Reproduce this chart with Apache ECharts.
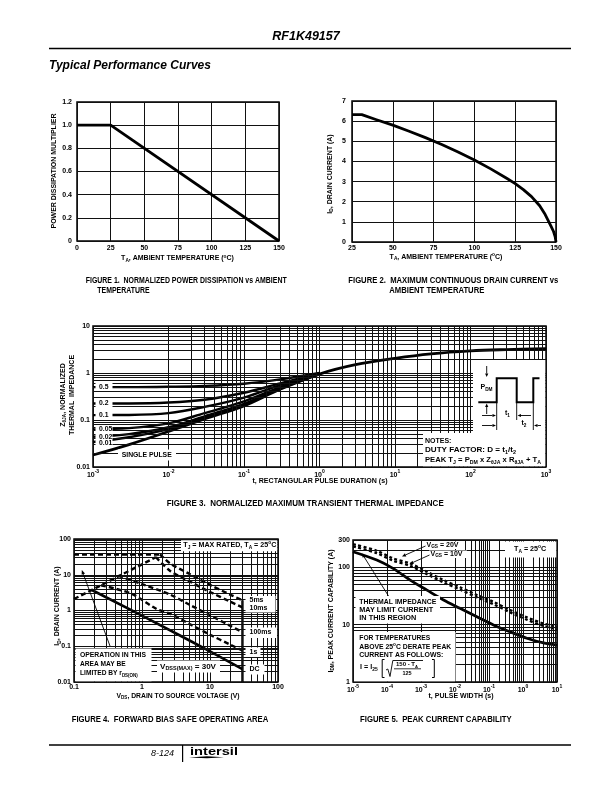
<!DOCTYPE html>
<html><head><meta charset="utf-8">
<script src="https://cdn.jsdelivr.net/npm/echarts@6/dist/echarts.min.js"></script>
<style>html,body{margin:0;padding:0;background:#fff}#c{width:612px;height:792px}</style>
</head><body><div id="c"></div>
<script>
// ---------------- DATA ----------------
// Figure 1: normalized power dissipation vs ambient temperature
const fig1Temp = [0, 25, 150];
const fig1Mult = [1.0, 1.0, 0];
// Figure 2: max continuous drain current vs ambient temperature
const fig2Temp = [25, 31, 40, 50, 60, 70, 80, 90, 100, 110, 120, 125, 130, 135, 140, 143, 145, 147, 148.5, 149.5, 150];
const fig2Id   = [6.32, 6.32, 6.07, 5.8, 5.5, 5.18, 4.84, 4.47, 4.07, 3.63, 3.15, 2.9, 2.6, 2.25, 1.8, 1.42, 1.1, 0.78, 0.52, 0.26, 0];
// Figure 3: normalized transient thermal impedance
const fig3Time   = [1e-3, 3e-3, 1e-2, 3e-2, 0.1, 0.3, 1];
const fig3D050   = [0.5, 0.5, 0.51, 0.53, 0.59, 0.73, 1.0];
const fig3D020   = [0.225, 0.225, 0.235, 0.27, 0.38, 0.6, 0.99];
const fig3D010   = [0.127, 0.128, 0.14, 0.19, 0.3, 0.55, 0.98];
const fig3D005   = [0.063, 0.067, 0.085, 0.14, 0.25, 0.5, 0.97];
const fig3D002   = [0.044, 0.05, 0.07, 0.12, 0.22, 0.47, 0.96];
const fig3D001   = [0.034, 0.043, 0.064, 0.112, 0.21, 0.46, 0.955];
const fig3TimeSP = [1e-3, 3e-3, 1e-2, 3e-2, 0.1, 0.3, 1, 3, 10, 30, 100, 300, 1000];
const fig3Single = [0.018, 0.03, 0.057, 0.105, 0.2, 0.45, 0.95, 1.5, 2.05, 2.55, 2.95, 3.15, 3.3];
const fig3DutyLabels = ['0.5', '0.2', '0.1', '0.05', '0.02', '0.01'];
// Figure 4: forward bias safe operating area
const fig4IdmV = [0.1, 1.84];        const fig4IdmI = [37, 37];
const fig4RdsV = [0.1, 0.2, 0.5, 1, 1.6];  const fig4RdsI = [2.1, 4.1, 10, 19.5, 31];
const fig4V5ms   = [1.84, 2.57, 5, 10, 20, 30];  const fig4I5ms   = [37, 21, 10.5, 5.2, 2.75, 1.94];
const fig4V10ms  = [1.6, 2.57, 5, 10, 20, 30];   const fig4I10ms  = [31, 13, 6.5, 3.3, 1.75, 1.22];
const fig4V100ms = [0.45, 1, 2.57, 5, 10, 20, 30]; const fig4I100ms = [9.3, 5.5, 2.8, 1.45, 0.74, 0.37, 0.25];
const fig4V1s    = [0.25, 0.7, 1.64, 2.57, 5, 10, 20, 30]; const fig4I1s = [5.1, 2.95, 1.1, 0.82, 0.42, 0.21, 0.11, 0.076];
const fig4VDC    = [0.18, 1, 5, 10, 30];  const fig4IDC = [3.8, 0.72, 0.145, 0.072, 0.023];
const fig4VdssV  = [30, 30];  const fig4VdssI = [0.01, 1.94];
const fig4Labels = ['5ms', '10ms', '100ms', '1s', 'DC'];
// Figure 5: peak current capability
const fig5Time = [1e-5, 5e-5, 1.5e-4, 4.8e-4, 1.5e-3, 4.6e-3, 1.4e-2, 4.4e-2, 0.135, 0.42, 1.3, 4, 10];
const fig5Thermal = [187, 134, 96, 60, 40, 27, 19.3, 13.7, 9.9, 7.5, 5.8, 4.8, 4.4];
const fig5Vgs20 = [255, 195, 144, 117, 84, 60, 45, 33, 25, 18, 13.4, 10.5, 9.2];
const fig5Vgs10 = [232, 177, 131, 106, 76, 54.5, 41, 30, 22.7, 16.4, 12.2, 9.5, 8.3];

// ---------------- HELPERS ----------------
const FF = "'Liberation Sans', Arial, Helvetica, sans-serif";
const mctx = document.createElement('canvas').getContext('2d');
function mw(t, size, weight, style) { mctx.font = (style || 'normal') + ' ' + (weight || 'bold') + ' ' + size + 'px ' + FF; return mctx.measureText(t).width; }
function parseRich(t) {
  const parts = []; const re = /\{(s|p)\|([^}]*)\}/g; let last = 0, m;
  while ((m = re.exec(t))) { if (m.index > last) parts.push({t: t.slice(last, m.index), small: false}); parts.push({t: m[2], small: true}); last = re.lastIndex; }
  if (last < t.length) parts.push({t: t.slice(last), small: false});
  return parts;
}
function richWidth(t, size, weight, style) { return parseRich(t.split('\n')[0]).reduce((a, p) => a + mw(p.t, p.small ? size * 0.68 : size, weight, style), 0); }
function txt(x, y, t, o) {
  o = o || {};
  const size = o.size || 7, weight = o.weight || 'bold', fst = o.italic ? 'italic' : 'normal', al = o.align || 'left';
  const st = {text: t, fill: '#000', fontSize: size, fontWeight: weight, fontStyle: fst, fontFamily: FF,
    align: al, verticalAlign: 'middle', textAlign: al, textVerticalAlign: 'middle', lineHeight: o.lh || Math.round(size * 1.35)};
  if (t.indexOf('{') >= 0) {
    st.rich = {
      s: {fontSize: size * 0.68, fontWeight: weight, fontFamily: FF, verticalAlign: 'bottom', lineHeight: size * 0.9},
      p: {fontSize: size * 0.68, fontWeight: weight, fontFamily: FF, verticalAlign: 'top', lineHeight: size * 0.9}
    };
  }
  const el = {type: 'text', x: x, y: y, z: 100, silent: true, style: st};
  let sx = o.sx; if (o.w) sx = o.w / richWidth(t, size, weight, fst);
  if (sx) el.scaleX = sx;
  if (o.rot) el.rotation = o.rot;
  return el;
}
function ln(x1, y1, x2, y2, w) { return {type: 'line', z: 100, silent: true, shape: {x1: x1, y1: y1, x2: x2, y2: y2}, style: {stroke: '#000', lineWidth: w || 1}}; }
function poly(pts, w) { return {type: 'polyline', z: 100, silent: true, shape: {points: pts}, style: {stroke: '#000', lineWidth: w || 1, fill: null}}; }
function box(x, y, w, h) { return {type: 'rect', z: 90, silent: true, shape: {x: x, y: y, width: w, height: h}, style: {fill: '#fff'}}; }
function arrow(x1, y1, x2, y2, w, L, W) {
  L = L || 4; W = W || 1.8;
  const dx = x2 - x1, dy = y2 - y1, d = Math.hypot(dx, dy), ux = dx / d, uy = dy / d;
  const bx = x2 - ux * L, by = y2 - uy * L;
  return [ln(x1, y1, bx, by, w), {type: 'polygon', z: 100, silent: true,
    shape: {points: [[x2, y2], [bx - uy * W, by + ux * W], [bx + uy * W, by - ux * W]]}, style: {fill: '#000'}}];
}
const pts = (xs, ys) => xs.map((x, i) => [x, ys[i]]);
function minorVals(min, max) {
  const out = [];
  for (let e = Math.floor(Math.log10(min)); e <= Math.ceil(Math.log10(max)); e++)
    for (let m = 2; m <= 9; m++) { const v = m * Math.pow(10, e); if (v > min * 1.0001 && v < max * 0.9999) out.push(v); }
  return out;
}
function gridSeries(gi, xv, yv) {
  return {type: 'line', xAxisIndex: gi, yAxisIndex: gi, data: [], silent: true, z: 1,
    markLine: {silent: true, symbol: ['none', 'none'], label: {show: false}, animation: false,
      lineStyle: {color: '#111', width: 1, type: 'solid'}, emphasis: {disabled: true},
      data: xv.map(v => ({xAxis: v})).concat(yv.map(v => ({yAxis: v})))}};
}
function curve(gi, data, o) {
  o = o || {};
  return {type: 'line', xAxisIndex: gi, yAxisIndex: gi, data: data, showSymbol: false, symbol: 'none', silent: true, z: 3,
    smooth: o.smooth || false, clip: true,
    lineStyle: {color: '#000', width: o.w || 2.6, type: o.dash || 'solid', cap: 'butt', join: 'round'}};
}
function decLabel(v) {
  const e = Math.round(Math.log10(v));
  if (Math.abs(v - Math.pow(10, e)) / v > 1e-6) return String(Math.round(v));
  return e >= 0 ? String(Math.round(Math.pow(10, e))) : '0.' + '0'.repeat(-e - 1) + '1';
}
const lblBase = {color: '#000', fontSize: 7, fontWeight: 'bold', fontFamily: FF, interval: 0, showMinLabel: true, showMaxLabel: true};
const powRich = {b: {fontSize: 7, fontWeight: 'bold', fontFamily: FF, lineHeight: 10, verticalAlign: 'bottom', color: '#000'},
                 e: {fontSize: 5, fontWeight: 'bold', fontFamily: FF, lineHeight: 6, verticalAlign: 'top', color: '#000'}};
const powFmt = v => '{b|10}{e|' + Math.round(Math.log10(v)) + '}';
const split = {show: true, lineStyle: {color: '#111', width: 1}};
function ax(gi, o) {
  return Object.assign({gridIndex: gi, axisLine: {show: false}, axisTick: {show: false}, splitLine: split}, o);
}

// ---------------- OPTION ----------------
const grids = [
  {left: 77, top: 102, width: 202, height: 139},
  {left: 352, top: 101, width: 204, height: 141},
  {left: 93, top: 326, width: 453, height: 141},
  {left: 74, top: 539, width: 204, height: 143},
  {left: 353, top: 540, width: 204, height: 142}
].map(g => Object.assign(g, {show: true, borderColor: '#000', borderWidth: 1.5, backgroundColor: 'transparent', containLabel: false}));

const xAxes = [
  ax(0, {type: 'value', min: 0, max: 150, interval: 25, axisLabel: Object.assign({}, lblBase, {margin: 4})}),
  ax(1, {type: 'value', min: 25, max: 150, interval: 25, axisLabel: Object.assign({}, lblBase, {margin: 3})}),
  ax(2, {type: 'log', logBase: 10, min: 1e-3, max: 1e3, axisLabel: Object.assign({}, lblBase, {margin: 2, formatter: powFmt, rich: powRich})}),
  ax(3, {type: 'log', logBase: 10, min: 0.1, max: 100, axisLabel: Object.assign({}, lblBase, {margin: 2, formatter: decLabel})}),
  ax(4, {type: 'log', logBase: 10, min: 1e-5, max: 10, axisLabel: Object.assign({}, lblBase, {margin: 2, formatter: powFmt, rich: powRich})})
];
const yAxes = [
  ax(0, {type: 'value', min: 0, max: 1.2, interval: 0.2, axisLabel: Object.assign({}, lblBase, {margin: 5, formatter: v => v === 0 ? '0' : v.toFixed(1)})}),
  ax(1, {type: 'value', min: 0, max: 7, interval: 1, axisLabel: Object.assign({}, lblBase, {margin: 6})}),
  ax(2, {type: 'log', logBase: 10, min: 0.01, max: 10, axisLabel: Object.assign({}, lblBase, {margin: 3, formatter: decLabel})}),
  ax(3, {type: 'log', logBase: 10, min: 0.01, max: 100, axisLabel: Object.assign({}, lblBase, {margin: 3, formatter: decLabel})}),
  ax(4, {type: 'log', logBase: 10, min: 1, max: 300, axisLabel: Object.assign({}, lblBase, {margin: 3, formatter: decLabel})})
];

const series = [
  gridSeries(2, minorVals(1e-3, 1e3), minorVals(0.01, 10)),
  gridSeries(3, minorVals(0.1, 100), minorVals(0.01, 100)),
  gridSeries(4, minorVals(1e-5, 10), minorVals(1, 300)),
  // Fig 1
  curve(0, pts(fig1Temp, fig1Mult), {w: 2.8}),
  // Fig 2
  curve(1, pts(fig2Temp, fig2Id), {w: 2.8}),
  // Fig 3
  curve(2, pts(fig3Time, fig3D050), {w: 2.4, smooth: 0.35}),
  curve(2, pts(fig3Time, fig3D020), {w: 2.4, smooth: 0.35}),
  curve(2, pts(fig3Time, fig3D010), {w: 2.4, smooth: 0.35}),
  curve(2, pts(fig3Time, fig3D005), {w: 2.4, smooth: 0.35}),
  curve(2, pts(fig3Time, fig3D002), {w: 2.4, smooth: 0.35}),
  curve(2, pts(fig3Time, fig3D001), {w: 2.4, smooth: 0.35}),
  curve(2, pts(fig3TimeSP, fig3Single), {w: 2.8, smooth: 0.35}),
  // Fig 4
  curve(3, pts(fig4IdmV, fig4IdmI), {w: 2.4, dash: [5, 3]}),
  curve(3, pts(fig4RdsV, fig4RdsI), {w: 2.4, dash: [5, 3]}),
  curve(3, pts(fig4V5ms, fig4I5ms), {w: 2.4, dash: [5, 3], smooth: 0.3}),
  curve(3, pts(fig4V10ms, fig4I10ms), {w: 2.4, dash: [5, 3], smooth: 0.3}),
  curve(3, pts(fig4V100ms, fig4I100ms), {w: 2.4, dash: [5, 3], smooth: 0.3}),
  curve(3, pts(fig4V1s, fig4I1s), {w: 2.4, dash: [5, 3], smooth: 0.3}),
  curve(3, pts(fig4VDC, fig4IDC), {w: 2.6}),
  curve(3, pts(fig4VdssV, fig4VdssI), {w: 2.4}),
  // Fig 5
  curve(4, pts(fig5Time, fig5Thermal), {w: 2.8, smooth: 0.3}),
  curve(4, pts(fig5Time, fig5Vgs20), {w: 2.3, dash: [3, 2.5], smooth: 0.3}),
  curve(4, pts(fig5Time, fig5Vgs10), {w: 2.3, dash: [3, 2.5], smooth: 0.3})
];

// ---------------- ANNOTATIONS ----------------
const R90 = Math.PI / 2;
const capSize = 8.6;
const g = [];
// page header / footer
g.push(txt(306, 37, 'RF1K49157', {size: 12.5, italic: true, align: 'center'}));
g.push(ln(49, 48.5, 571, 48.5, 1.3));
g.push(txt(49, 66, 'Typical Performance Curves', {size: 12, italic: true, w: 162}));
g.push(ln(49, 745, 571, 745, 1.3));
g.push(txt(174, 753, '8-124', {size: 9, italic: true, weight: 'normal', align: 'right'}));
g.push(ln(182.6, 745, 182.6, 762, 1.2));
g.push(txt(190, 752, 'intersil', {size: 11.5, weight: 'bold', w: 48}));
g.push({type: 'polygon', z: 100, silent: true, shape: {points: [[189, 757.5], [207, 756.3], [224, 757.3], [207, 758.3]]}, style: {fill: '#000'}});

// Figure 1
g.push(txt(177.5, 258.3, 'T{s|A}, AMBIENT TEMPERATURE ({p|o}C)', {size: 7, align: 'center'}));
g.push(txt(54, 171, 'POWER DISSIPATION MULTIPLIER', {size: 7, align: 'center', rot: R90, w: 115}));
const c1 = txt(85.7, 280.7, 'FIGURE 1.  NORMALIZED POWER DISSIPATION vs AMBIENT', {size: capSize, w: 201});
g.push(c1);
g.push(txt(97.3, 290.7, 'TEMPERATURE', {size: capSize, sx: c1.scaleX}));
// Figure 2
g.push(txt(446, 256.7, 'T{s|A}, AMBIENT TEMPERATURE ({p|o}C)', {size: 7, align: 'center'}));
g.push(txt(330, 174, 'I{s|D}, DRAIN CURRENT (A)', {size: 7, align: 'center', rot: R90}));
const c2 = txt(348.3, 281, 'FIGURE 2.  MAXIMUM CONTINUOUS DRAIN CURRENT vs', {size: capSize, w: 210});
g.push(c2);
g.push(txt(389.3, 291, 'AMBIENT TEMPERATURE', {size: capSize, sx: c2.scaleX}));
// Figure 3
g.push(txt(320, 481, 't, RECTANGULAR PULSE DURATION (s)', {size: 7, align: 'center', w: 135}));
g.push(txt(67.5, 395, 'Z{s|θJA}, NORMALIZED\nTHERMAL  IMPEDANCE', {size: 7, align: 'center', rot: R90, lh: 9}));
g.push(txt(166.7, 503.3, 'FIGURE 3.  NORMALIZED MAXIMUM TRANSIENT THERMAL IMPEDANCE', {size: capSize, w: 277}));
const dutyY = [386.7, 402.7, 415, 429.3, 436.7, 442.7];
g.push(box(95.5, 382.5, 17, 8.5)); g.push(box(95.5, 398.5, 17, 8.5)); g.push(box(95.5, 410.7, 17, 8.5));
g.push(box(95.5, 425, 17, 21.5));
fig3DutyLabels.forEach((l, i) => g.push(txt(99, dutyY[i], l, {size: 6.8})));
g.push(box(118, 449.5, 58, 11));
g.push(txt(121.7, 455, 'SINGLE PULSE', {size: 7, w: 50}));
// notes + pulse diagram
g.push(box(423, 433, 122.2, 33.3));
g.push(box(473, 360, 72.2, 73));
g.push(txt(425, 441, 'NOTES:', {size: 7}));
g.push(txt(425, 450.5, 'DUTY FACTOR: D = t{s|1}/t{s|2}', {size: 7, w: 91}));
g.push(txt(425, 460.5, 'PEAK T{s|J} = P{s|DM} x Z{s|θJA} x R{s|θJA} + T{s|A}', {size: 7, w: 116}));
g.push(poly([[478.3, 402.3], [496.7, 402.3], [496.7, 378.3], [516.7, 378.3], [516.7, 402.3], [533.3, 402.3], [533.3, 378.3], [539.5, 378.3]], 2));
g.push(txt(480.5, 387.3, 'P{s|DM}', {size: 7}));
g.push(...arrow(486.7, 366, 486.7, 377, 0.9, 3.5, 1.6));
g.push(...arrow(486.7, 414, 486.7, 403.5, 0.9, 3.5, 1.6));
g.push(ln(496.7, 403, 496.7, 430, 0.9));
g.push(ln(516.7, 403, 516.7, 420, 0.9));
g.push(ln(533.3, 403, 533.3, 430, 0.9));
g.push(...arrow(482, 415.5, 496, 415.5, 0.9, 3.5, 1.6));
g.push(...arrow(531, 415.5, 517.5, 415.5, 0.9, 3.5, 1.6));
g.push(txt(505, 413.5, 't{s|1}', {size: 7}));
g.push(...arrow(482, 425.5, 496, 425.5, 0.9, 3.5, 1.6));
g.push(...arrow(541, 425.5, 534, 425.5, 0.9, 3.5, 1.6));
g.push(txt(521.5, 423.5, 't{s|2}', {size: 7}));

// Figure 4
g.push(txt(178, 695.7, 'V{s|DS}, DRAIN TO SOURCE VOLTAGE (V)', {size: 7, align: 'center', w: 123}));
g.push(txt(57.3, 606, 'I{s|D}, DRAIN CURRENT (A)', {size: 7, align: 'center', rot: R90}));
g.push(txt(71.7, 720, 'FIGURE 4.  FORWARD BIAS SAFE OPERATING AREA', {size: capSize, w: 196.6}));
g.push(box(181, 540.2, 96.2, 11));
g.push(txt(183.3, 545.5, 'T{s|J} = MAX RATED, T{s|A} = 25{p|o}C', {size: 7.2, w: 93}));
const f4LabelY = [600.5, 608, 632.5, 652.3, 669.5];
g.push(box(245.5, 596, 30, 16.5)); g.push(box(245.5, 627.5, 31.5, 10.5));
g.push(box(245.5, 647.5, 15, 9.5)); g.push(box(245.5, 664.5, 19, 10));
fig4Labels.forEach((l, i) => g.push(txt(249.5, f4LabelY[i], l, {size: 7})));
g.push(box(75.5, 648.5, 76, 32.7));
g.push(txt(80, 655, 'OPERATION IN THIS', {size: 7.2, w: 66}));
g.push(txt(80, 664, 'AREA MAY BE', {size: 7.2, sx: 0.92}));
g.push(txt(80, 673.5, 'LIMITED BY r{s|DS(ON)}', {size: 7.2, sx: 0.92}));
g.push(...arrow(110, 646, 81.8, 570, 0.9, 4.5, 1.8));
g.push(box(157, 660.5, 63, 12));
g.push(txt(160, 666.7, 'V{s|DSS(MAX)} = 30V', {size: 7, w: 56}));

// Figure 5
g.push(txt(461, 695.7, 't, PULSE WIDTH (s)', {size: 7, align: 'center'}));
g.push(txt(330.7, 611, 'I{s|DM}, PEAK CURRENT CAPABILITY (A)', {size: 7, align: 'center', rot: R90, w: 123}));
g.push(txt(360, 720, 'FIGURE 5.  PEAK CURRENT CAPABILITY', {size: capSize, w: 151.7}));
g.push(box(505, 541.5, 51.2, 16));
g.push(txt(514, 549.3, 'T{s|A} = 25{p|o}C', {size: 7.2}));
g.push(box(424, 541.5, 36, 7.5)); g.push(box(429, 550.5, 38, 7.5));
g.push(txt(426.5, 545, 'V{s|GS} = 20V', {size: 7}));
g.push(txt(430.5, 554, 'V{s|GS} = 10V', {size: 7}));
g.push(...arrow(425.5, 546, 402, 556.5, 0.9, 4, 1.7));
g.push(...arrow(429.5, 555, 409.5, 564, 0.9, 4, 1.7));
g.push(box(355.5, 596, 84.5, 27.5));
g.push(txt(359.3, 601.7, 'THERMAL IMPEDANCE', {size: 7.2, w: 77}));
g.push(txt(359.3, 610, 'MAY LIMIT CURRENT', {size: 7.2, w: 74}));
g.push(txt(359.3, 618.3, 'IN THIS REGION', {size: 7.2, w: 57}));
g.push(...arrow(388.5, 596, 362, 553.5, 0.9, 4, 1.7));
g.push(box(354, 632, 101.5, 49.2));
g.push(txt(359.3, 638.3, 'FOR TEMPERATURES', {size: 7.2, w: 71}));
g.push(txt(359.3, 646.7, 'ABOVE 25{p|o}C DERATE PEAK', {size: 7.2, w: 92}));
g.push(txt(359.3, 655, 'CURRENT AS FOLLOWS:', {size: 7.2, w: 84}));
g.push(txt(360, 667.5, 'I = I{s|25}', {size: 7.2}));
g.push(poly([[384.5, 659.5], [382.2, 659.5], [382.2, 677.5], [384.5, 677.5]], 1));
g.push(poly([[386, 670], [387.8, 669], [390, 676.5], [392.8, 660.5], [423, 660.5]], 0.9));
g.push(txt(407, 664.5, '150 - T{s|A}', {size: 6, align: 'center'}));
g.push(ln(394, 668.8, 421, 668.8, 0.8));
g.push(txt(407, 673.5, '125', {size: 5.5, align: 'center'}));
g.push(poly([[432, 659.5], [434.3, 659.5], [434.3, 677.5], [432, 677.5]], 1));

const option = {
  animation: false,
  backgroundColor: '#fff',
  textStyle: {fontFamily: FF},
  grid: grids, xAxis: xAxes, yAxis: yAxes, series: series,
  graphic: {elements: g}
};
const chart = echarts.init(document.getElementById('c'), null, {renderer: 'canvas', width: 612, height: 792});
chart.setOption(option);
</script></body></html>
